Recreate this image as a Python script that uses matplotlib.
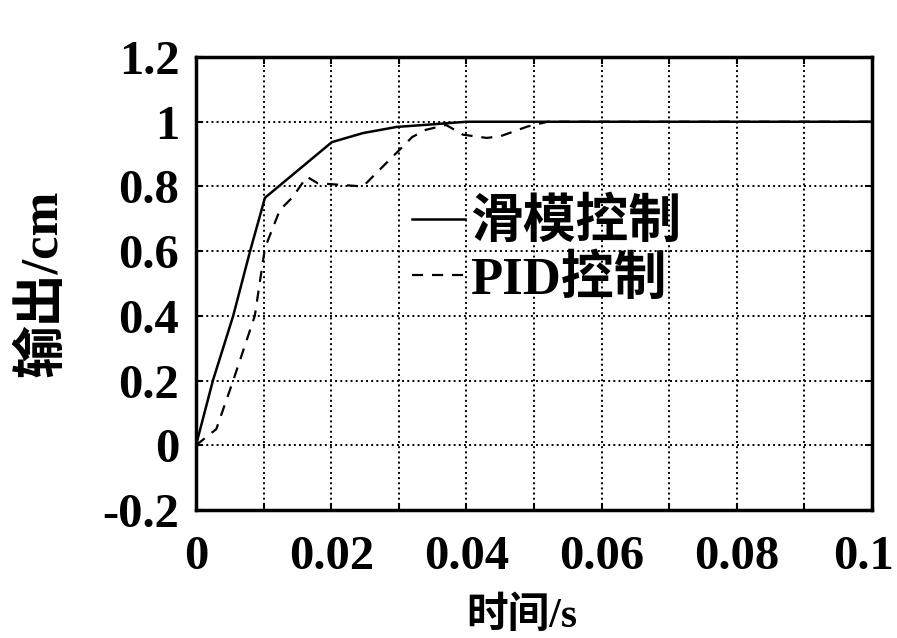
import numpy as np
import matplotlib
matplotlib.use("Agg")
import matplotlib.pyplot as plt
from matplotlib.transforms import ScaledTranslation

# --- DATA ---
t_smc = [0.0, 0.0025, 0.0055, 0.008, 0.0102, 0.0201, 0.0247, 0.0297, 0.035, 0.040, 0.1]
y_smc = [0.0, 0.20, 0.40, 0.60, 0.765, 0.937, 0.965, 0.984, 0.992, 1.0, 1.0]

t_pid = [0.0, 0.003, 0.0055, 0.0087, 0.0102, 0.0124, 0.0143, 0.0164, 0.018, 0.0247,
         0.029, 0.032, 0.034, 0.037, 0.0395, 0.043, 0.045, 0.049, 0.052, 0.1]
y_pid = [0.0, 0.05, 0.20, 0.40, 0.61, 0.727, 0.767, 0.83, 0.81, 0.80,
         0.89, 0.953, 0.975, 0.99, 0.96, 0.95, 0.955, 0.985, 1.0, 1.0]

x_ticks = [0, 0.02, 0.04, 0.06, 0.08, 0.1]
x_ticklabels = ["0", "0.02", "0.04", "0.06", "0.08", "0.1"]
y_ticks = [-0.2, 0, 0.2, 0.4, 0.6, 0.8, 1.0, 1.2]
y_ticklabels = ["-0.2", "0", "0.2", "0.4", "0.6", "0.8", "1", "1.2"]
labels = ["滑模控制", "PID控制"]

FAM = ["Liberation Serif", "Noto Sans CJK SC"]
plt.rcParams['font.family'] = FAM
plt.rcParams['font.weight'] = 'bold'

fig = plt.figure(figsize=(8.97, 6.38), dpi=100)
ax = fig.add_axes([0.2185, 0.2006, 0.7536, 0.7100])

ax.plot(t_smc, y_smc, '-', color='black', linewidth=1.8, label=labels[0])
ax.plot(t_pid, y_pid, '--', color='black', linewidth=1.6, dashes=(5, 4), label=labels[1])

ax.set_xlim(0, 0.1)
ax.set_ylim(-0.2, 1.2)
ax.set_xticks(x_ticks)
ax.set_xticklabels(x_ticklabels)
ax.set_xticks(np.arange(0.01, 0.1, 0.02), minor=True)
ax.set_yticks(y_ticks)
ax.set_yticklabels(y_ticklabels)

ax.grid(True, which='both', color='black', linestyle=':', linewidth=1.4)
ax.tick_params(which='both', direction='in', length=5, width=1.5,
               top=True, right=True, labelsize=35)
ax.tick_params(axis='x', pad=18)
ax.tick_params(axis='y', pad=12)
for lbl in ax.get_xticklabels() + ax.get_yticklabels():
    lbl.set_fontweight('bold')
# last x label sits close to the figure edge
last = ax.get_xticklabels()[-1]
last.set_transform(last.get_transform() + ScaledTranslation(-8 / 100, 0, fig.dpi_scale_trans))
for sp in ax.spines.values():
    sp.set_linewidth(2.5)

ax.set_xlabel("时间/s", fontsize=30, fontweight='bold')
ax.xaxis.set_label_coords(0.482, -0.19)
ax.set_ylabel("输出/cm", fontsize=38, fontweight='bold')
ax.yaxis.set_label_coords(-0.19, 0.5)

ax.legend(loc='upper left', bbox_to_anchor=(0.32, 0.69), frameon=False,
          borderpad=0, borderaxespad=0,
          handlelength=1.0, handletextpad=0.1, labelspacing=0.12,
          prop={'family': FAM, 'size': 38, 'weight': 'bold'})

fig.savefig("out.png", dpi=100)
